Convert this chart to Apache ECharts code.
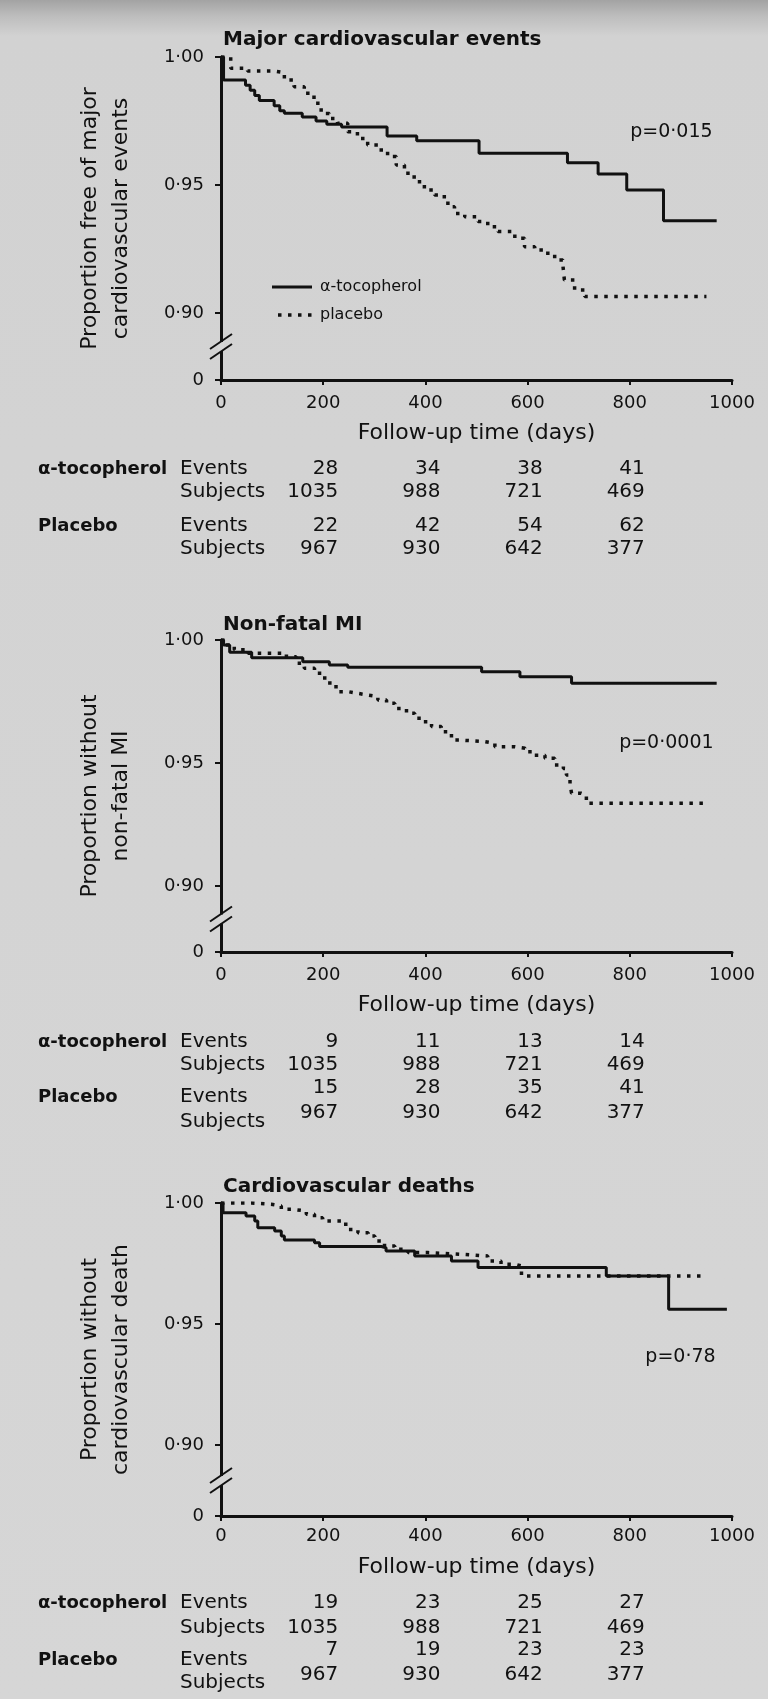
<!DOCTYPE html>
<html>
<head>
<meta charset="utf-8">
<script src="https://cdn.jsdelivr.net/npm/echarts@6/dist/echarts.min.js"></script>
<style>
html, body { margin: 0; padding: 0; }
#chart {
  width: 768px; height: 1699px;
  background: linear-gradient(to bottom, #a3a3a3 0px, #bdbdbd 16px, #d2d2d2 36px, #d6d6d6 100%);
}
</style>
</head>
<body>
<div id="chart"></div>
<script>
// ---- Kaplan–Meier steps: day at which each new proportion begins ----
const xTicks = [0, 200, 400, 600, 800, 1000];
const tableDays = [200, 400, 600, 800];

// Major cardiovascular events
const mceTocoDays = [0, 5, 48, 57, 66, 75, 104, 115, 124, 159, 186, 207, 236, 325, 383, 505, 678, 738, 794, 866, 970];
const mceTocoSurv = [1.000, 0.991, 0.989, 0.987, 0.985, 0.983, 0.981, 0.979, 0.978, 0.9766, 0.975, 0.9737, 0.9727, 0.9691, 0.9673, 0.9624, 0.9587, 0.9543, 0.948, 0.936, 0.936];
const mcePlacDays = [0, 19, 52, 104, 124, 143, 163, 182, 196, 212, 228, 248, 267, 287, 307, 326, 343, 359, 378, 398, 418, 437, 444, 457, 477, 503, 522, 542, 575, 594, 614, 633, 653, 669, 672, 692, 712, 950];
const mcePlacSurv = [1.000, 0.9956, 0.9945, 0.9939, 0.991, 0.9884, 0.9858, 0.9819, 0.9779, 0.976, 0.9741, 0.9708, 0.9682, 0.9656, 0.9637, 0.9611, 0.9578, 0.9546, 0.9513, 0.948, 0.9461, 0.9441, 0.9415, 0.9389, 0.9376, 0.9357, 0.9337, 0.9318, 0.9292, 0.9259, 0.9246, 0.9233, 0.9207, 0.9188, 0.9129, 0.909, 0.9064, 0.9064];

// Non-fatal MI
const miTocoDays = [0, 5, 17, 60, 160, 212, 248, 510, 585, 686, 970];
const miTocoSurv = [1.000, 0.998, 0.995, 0.9928, 0.9912, 0.9898, 0.9889, 0.9871, 0.9851, 0.9824, 0.9824];
const miPlacDays = [0, 10, 26, 53, 128, 147, 163, 183, 203, 213, 229, 249, 268, 288, 307, 324, 340, 363, 379, 395, 412, 431, 451, 470, 516, 536, 575, 595, 614, 634, 653, 670, 676, 683, 686, 705, 715, 944];
const miPlacSurv = [1.000, 0.998, 0.996, 0.9946, 0.9932, 0.9905, 0.9885, 0.9865, 0.9837, 0.981, 0.979, 0.9783, 0.9776, 0.977, 0.9756, 0.9743, 0.9722, 0.9702, 0.9682, 0.9668, 0.9648, 0.9627, 0.9593, 0.9587, 0.958, 0.9566, 0.956, 0.9546, 0.9532, 0.9519, 0.9492, 0.9478, 0.9451, 0.9417, 0.9377, 0.937, 0.9336, 0.9336];

// Cardiovascular deaths
const cvdTocoDays = [0, 4, 49, 66, 72, 105, 118, 124, 183, 193, 314, 323, 379, 451, 503, 754, 876, 990];
const cvdTocoSurv = [1.000, 0.996, 0.9946, 0.9926, 0.9898, 0.9884, 0.9864, 0.9847, 0.9836, 0.982, 0.9815, 0.9802, 0.9781, 0.976, 0.9733, 0.9698, 0.9561, 0.9561];
const cvdPlacDays = [0, 60, 98, 118, 140, 167, 183, 199, 235, 248, 268, 288, 301, 320, 340, 366, 405, 470, 522, 548, 575, 588, 944];
const cvdPlacSurv = [1.000, 0.9995, 0.9988, 0.9974, 0.9967, 0.9953, 0.9939, 0.9926, 0.9912, 0.9891, 0.9877, 0.9864, 0.9843, 0.9822, 0.9809, 0.9795, 0.9788, 0.9781, 0.976, 0.9747, 0.974, 0.9698, 0.9698];

// Numbers at risk / cumulative events below each panel
const tocoSubjects = [1035, 988, 721, 469];
const placSubjects = [967, 930, 642, 377];
const mceTocoEvents = [28, 34, 38, 41];
const mcePlacEvents = [22, 42, 54, 62];
const miTocoEvents = [9, 11, 13, 14];
const miPlacEvents = [15, 28, 35, 41];
const cvdTocoEvents = [19, 23, 25, 27];
const cvdPlacEvents = [7, 19, 23, 23];

const panelTitles = ['Major cardiovascular events', 'Non-fatal MI', 'Cardiovascular deaths'];
const yTitles = ['Proportion free of major\ncardiovascular events', 'Proportion without\nnon-fatal MI', 'Proportion without\ncardiovascular death'];
const pValues = ['p=0\u00b7015', 'p=0\u00b70001', 'p=0\u00b778'];
const seriesNames = ['\u03b1-tocopherol', 'placebo'];

const curves = [
  [[mceTocoDays, mceTocoSurv], [mcePlacDays, mcePlacSurv]],
  [[miTocoDays, miTocoSurv], [miPlacDays, miPlacSurv]],
  [[cvdTocoDays, cvdTocoSurv], [cvdPlacDays, cvdPlacSurv]]
];
const tables = [
  [mceTocoEvents, tocoSubjects, mcePlacEvents, placSubjects],
  [miTocoEvents, tocoSubjects, miPlacEvents, placSubjects],
  [cvdTocoEvents, tocoSubjects, cvdPlacEvents, placSubjects]
];

// ---- layout of the three stacked panels ----
const FONT = '"DejaVu Sans", sans-serif';
const INK = '#111';
const BG = '#d6d6d6';
const solidStyle = { color: INK, width: 3, type: 'solid' };
const dottedStyle = { color: INK, width: 3.5, type: [3.5, 6.5], cap: 'butt' };
const layout = [
  { top: 57,   height: 323, floor: 0.87383, titleTop: 25,   labelMargin: 14, nameGap: 42,
    pAnchor: [962, 0.9707], rows: [469, 492, 526, 526, 549, 549] },
  { top: 640,  height: 312, floor: 0.87317, titleTop: 610,  labelMargin: 14, nameGap: 42,
    pAnchor: [964, 0.9581], rows: [1042, 1065, 1088, 1097, 1113, 1122] },
  { top: 1203, height: 313, floor: 0.87066, titleTop: 1172, labelMargin: 11, nameGap: 40,
    pAnchor: [968, 0.9364], rows: [1603, 1628, 1650, 1660, 1675, 1683] }
];
// key for the two curves, drawn inside the first panel
const keyLayout = { x: 272, x2: 312, textX: 320, ys: [287, 315] };

const fmtY = (floor) => (v) => Math.abs(v - floor) < 1e-6 ? '0' : v.toFixed(2).replace('.', '\u00b7');

const grids = [], xAxes = [], yAxes = [], series = [], titles = [];
layout.forEach((p, i) => {
  grids.push({ left: 221, right: 36, top: p.top, height: p.height });
  titles.push({
    text: panelTitles[i], left: 218, top: p.titleTop,
    textStyle: { fontFamily: FONT, fontWeight: 'bold', fontSize: 20, color: INK }
  });
  xAxes.push({
    type: 'value', gridIndex: i, min: xTicks[0], max: xTicks[xTicks.length - 1], interval: xTicks[1] - xTicks[0],
    axisLine: { show: true, onZero: false, lineStyle: { color: INK, width: 3 } },
    axisTick: { show: true, length: 5, lineStyle: { color: INK, width: 2 } },
    axisLabel: { color: INK, fontFamily: FONT, fontSize: 18, margin: p.labelMargin, formatter: (v) => String(v) },
    splitLine: { show: false },
    name: 'Follow-up time (days)', nameLocation: 'middle', nameGap: p.nameGap,
    nameTextStyle: { color: INK, fontFamily: FONT, fontSize: 22 }
  });
  const yVals = [p.floor, 0.90, 0.95, 1.00];
  yAxes.push({
    type: 'value', gridIndex: i, min: p.floor, max: 1,
    axisLine: { show: true, onZero: false, lineStyle: { color: INK, width: 3 } },
    axisTick: { show: true, length: 6, customValues: yVals, lineStyle: { color: INK, width: 2 } },
    axisLabel: { customValues: yVals, formatter: fmtY(p.floor), color: INK, fontFamily: FONT, fontSize: 18, margin: 17 },
    splitLine: { show: false },
    name: yTitles[i], nameLocation: 'middle', nameRotate: 90, nameGap: 84,
    nameTextStyle: { color: INK, fontFamily: FONT, fontSize: 22, lineHeight: 31 }
  });
  curves[i].forEach(([days, surv], k) => {
    series.push({
      type: 'line', name: seriesNames[k], xAxisIndex: i, yAxisIndex: i,
      data: days.map((d, j) => [d, surv[j]]),
      step: 'end', symbol: 'none', silent: true,
      itemStyle: { color: INK },
      lineStyle: k === 0 ? solidStyle : dottedStyle
    });
  });
});

const chart = echarts.init(document.getElementById('chart'), null, { renderer: 'canvas' });
chart.setOption({
  animation: false,
  backgroundColor: 'transparent',
  title: titles,
  grid: grids,
  xAxis: xAxes,
  yAxis: yAxes,
  series: series
});

// ---- axis breaks, key, p-values and the events / subjects tables ----
function txt(text, x, y, font, align) {
  return {
    type: 'text', silent: true, z: 120,
    style: { text, x, y, font, fill: INK, textAlign: align, align, textVerticalAlign: 'middle', verticalAlign: 'middle' }
  };
}
function seg(x1, y1, x2, y2, ls) {
  return {
    type: 'line', silent: true, z: 111, shape: { x1, y1, x2, y2 },
    style: { stroke: INK, lineWidth: ls.width, lineDash: Array.isArray(ls.type) ? ls.type : null, lineCap: 'butt' }
  };
}
const graphics = [];
const regular = '20px ' + FONT;
const bold = 'bold 18px ' + FONT;

[solidStyle, dottedStyle].forEach((ls, k) => {
  const y = keyLayout.ys[k];
  graphics.push(seg(keyLayout.x + (k ? 6 : 0), y, keyLayout.x2, y, ls));
  graphics.push(txt(seriesNames[k], keyLayout.textX, y, '16px ' + FONT, 'left'));
});

layout.forEach((p, i) => {
  const toPx = (d, v) => chart.convertToPixel({ gridIndex: i }, [d, v]);
  // broken y axis between 0 and 0·90
  const [ax, yb] = toPx(0, (p.floor + 0.90) / 2);
  graphics.push({ type: 'rect', silent: true, z: 110, shape: { x: ax - 3, y: yb - 4.5, width: 6, height: 9 }, style: { fill: BG } });
  graphics.push(seg(ax - 11, yb + 2.5, ax + 11, yb - 12.5, { width: 2 }));
  graphics.push(seg(ax - 11, yb + 12.5, ax + 11, yb - 2.5, { width: 2 }));

  const [px, py] = toPx(p.pAnchor[0], p.pAnchor[1]);
  graphics.push(txt(pValues[i], px, py, '19px ' + FONT, 'right'));

  const r = p.rows;
  graphics.push(txt('\u03b1-tocopherol', 38, r[0], bold, 'left'));
  graphics.push(txt('Events', 180, r[0], regular, 'left'));
  graphics.push(txt('Subjects', 180, r[1], regular, 'left'));
  graphics.push(txt('Placebo', 38, r[3], bold, 'left'));
  graphics.push(txt('Events', 180, r[3], regular, 'left'));
  graphics.push(txt('Subjects', 180, r[5], regular, 'left'));
  const [tocoEv, tocoSub, placEv, placSub] = tables[i];
  tableDays.forEach((d, j) => {
    const x = toPx(d, p.floor)[0] + 15;
    graphics.push(txt(String(tocoEv[j]), x, r[0], regular, 'right'));
    graphics.push(txt(String(tocoSub[j]), x, r[1], regular, 'right'));
    graphics.push(txt(String(placEv[j]), x, r[2], regular, 'right'));
    graphics.push(txt(String(placSub[j]), x, r[4], regular, 'right'));
  });
});
chart.setOption({ graphic: graphics });
</script>
</body>
</html>
